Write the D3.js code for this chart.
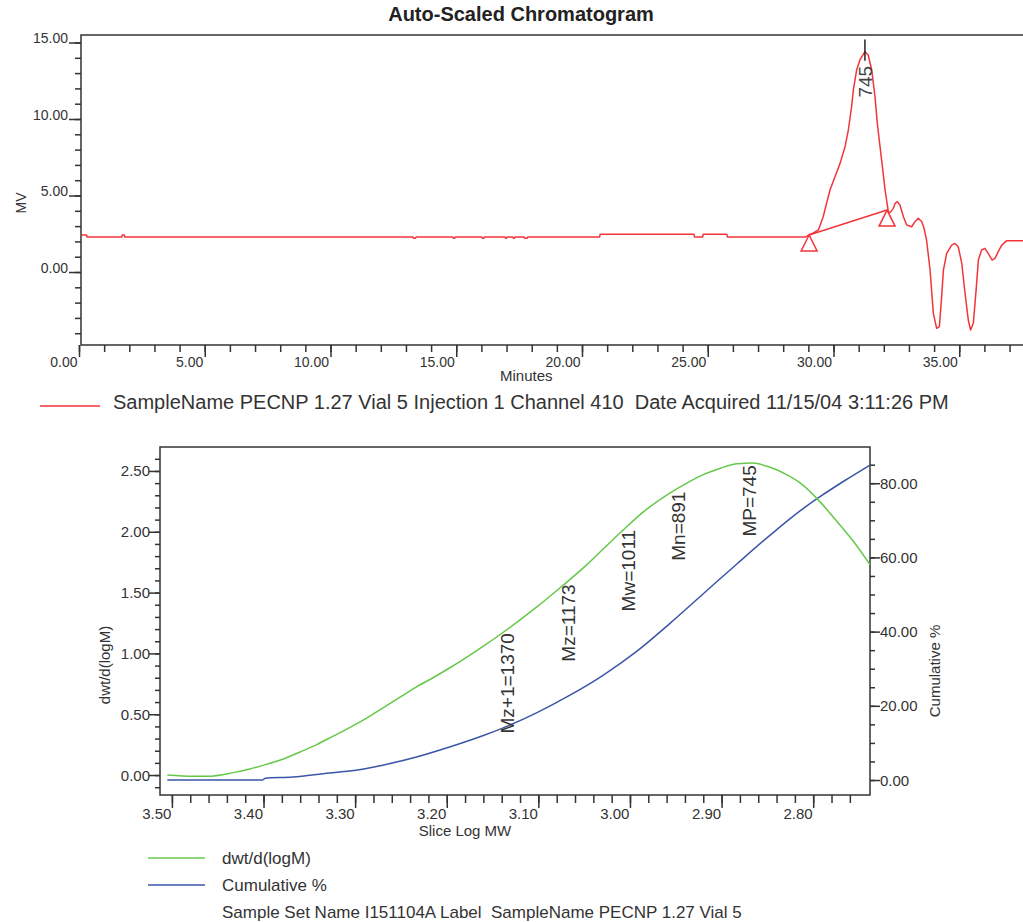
<!DOCTYPE html>
<html><head><meta charset="utf-8">
<script src="https://cdn.jsdelivr.net/npm/d3@7"></script>
<style>
body{margin:0;background:#fff;}
svg{display:block;font-family:"Liberation Sans",Arial,Helvetica,sans-serif;}
text{white-space:pre;}
</style></head><body>
<svg id="c" width="1023" height="922"></svg>
<script>
// ---------- Top chart data (Minutes vs MV) ----------
const chromTime = [0.10,0.30,0.32,1.70,1.72,1.80,1.82,13.28,13.30,13.38,13.40,14.86,14.88,14.94,14.96,16.02,16.04,16.10,16.12,16.94,16.96,17.00,17.02,17.25,17.27,17.31,17.33,17.70,17.72,17.82,17.84,20.70,20.72,24.45,24.47,24.80,24.82,25.76,25.78,28.90,
  29.03,29.20,29.40,29.59,29.86,30.06,30.26,30.46,30.59,30.72,30.79,30.92,31.05,31.25,31.38,31.52,31.65,31.74,31.85,31.96,32.05,32.18,32.25,32.38,32.45,32.54,32.64,32.78,32.91,33.11,33.24,33.37,33.51,33.60,33.70,33.84,33.97,34.10,34.21,34.30,34.37,34.50,34.70,34.83,34.96,35.10,35.23,35.36,35.45,35.56,35.67,35.76,35.89,36.02,36.15,36.31,36.42,36.55,36.69,36.89,37.60];
const chromMV = [2.42,2.42,2.29,2.29,2.42,2.42,2.29,2.29,2.20,2.20,2.29,2.29,2.20,2.20,2.29,2.29,2.20,2.20,2.29,2.29,2.20,2.20,2.29,2.29,2.20,2.20,2.29,2.29,2.20,2.20,2.29,2.29,2.46,2.46,2.29,2.29,2.46,2.46,2.29,2.29,
  2.42,2.55,2.75,3.61,5.36,6.23,7.10,8.19,9.28,10.80,11.90,13.20,13.86,14.40,14.18,13.20,11.46,9.74,8.19,6.67,5.36,3.94,3.88,4.16,4.49,4.60,4.38,3.61,3.07,2.96,3.29,3.51,3.29,2.86,2.09,0.13,-2.70,-3.68,-3.57,-1.61,0.13,1.22,1.76,1.87,1.65,0.57,-1.39,-3.14,-3.79,-3.35,-1.18,0.78,1.44,1.55,1.22,0.78,0.89,1.33,1.76,2.05,2.05];
const peakStart = [29.03, 2.42];
const peakEnd = [32.13, 4.05];
const peakApex = 31.25;
const peakLabel = "745";
const chromXMajor = [0,5,10,15,20,25,30,35];
const chromXMinor = d3.range(0,38,1);
const chromYMajor = [0,5,10,15];
const chromYMinor = d3.range(-4,16,1);
const chromTitle = "Auto-Scaled Chromatogram";
const chromLegend = "SampleName PECNP 1.27 Vial 5 Injection 1 Channel 410  Date Acquired 11/15/04 3:11:26 PM";

// ---------- Bottom chart data (Slice Log MW) ----------
const dwtLogM = [3.505,3.477,3.461,3.433,3.415,3.396,3.379,3.360,3.342,3.324,3.306,3.287,3.270,3.251,3.233,3.215,3.197,3.178,3.160,3.139,3.102,3.073,3.047,3.029,3.008,2.986,2.956,2.938,2.920,2.902,2.883,2.866,2.847,2.829,2.814,2.793,2.778,2.757,2.738];
const dwtValues = [0.00,-0.01,-0.01,0.02,0.05,0.09,0.13,0.19,0.25,0.32,0.39,0.47,0.55,0.64,0.725,0.80,0.88,0.97,1.06,1.17,1.38,1.56,1.73,1.86,2.01,2.16,2.32,2.40,2.47,2.52,2.56,2.565,2.53,2.47,2.40,2.25,2.12,1.93,1.73];
const cumLogM = [3.505,3.401,3.398,3.368,3.328,3.306,3.270,3.233,3.197,3.160,3.139,3.102,3.066,3.029,2.992,2.956,2.920,2.883,2.847,2.814,2.793,2.765,2.738];
const cumValues = [0.0,0.0,0.5,0.8,1.9,2.4,4.0,6.2,8.9,12.0,14.0,18.1,22.8,28.3,34.8,42.3,50.2,58.3,66.0,72.6,76.3,80.8,84.9];
const annNames = ["Mz+1","Mz","Mw","Mn","MP"];
const annValues = [1370,1173,1011,891,745];
const mwXMajor = [3.5,3.4,3.3,3.2,3.1,3.0,2.9,2.8];
const mwXMinor = d3.range(0,38).map(i => +(3.5 - i*0.02).toFixed(2)).filter(v => v >= 2.74);
const dwtYMajor = [0,0.5,1,1.5,2,2.5];
const dwtYMinor = d3.range(-1,27).map(i => +(i*0.1).toFixed(1));
const cumYMajor = [0,20,40,60,80];
const cumYMinor = d3.range(0,90,5);
const seriesNames = ["dwt/d(logM)","Cumulative %"];
const mwLegendNote = "Sample Set Name I151104A Label  SampleName PECNP 1.27 Vial 5";

// ---------- Drawing ----------
const svg = d3.select("#c");
const axisCol = "#333", textCol = "#333";
const red = "#f2353a", green = "#66c84a", blue = "#3a56a8";
const fmt2 = d3.format(".2f");

svg.append("rect").attr("width",1023).attr("height",922).attr("fill","#fff");

// === TOP CHART ===
const tx = d3.scaleLinear().domain([0,37.6]).range([79, 79+37.6*25.15]);
const ty = d3.scaleLinear().domain([-4.77,15.49]).range([345,35]);
const axL = 81;
const T = svg.append("g");

T.append("text").attr("x",521).attr("y",21).attr("text-anchor","middle")
  .attr("font-size",20).attr("font-weight","bold").attr("fill","#222").text(chromTitle);

function styleAxis(g, fs){
  g.select(".domain").remove();
  g.selectAll(".tick line").attr("stroke",axisCol).attr("stroke-width",1.5);
  g.selectAll(".tick text").attr("fill",textCol).attr("font-size",fs)
   .attr("font-family","Liberation Sans, Arial, sans-serif");
}

// x minor / major
let g = T.append("g").attr("transform",`translate(0,${ty.range()[0]})`)
  .call(d3.axisBottom(tx).tickValues(chromXMinor).tickSize(7).tickFormat(""));
styleAxis(g,14);
g = T.append("g").attr("transform",`translate(0,${ty.range()[0]})`)
  .call(d3.axisBottom(tx).tickValues(chromXMajor).tickSize(12).tickFormat(fmt2));
styleAxis(g,14);
g.selectAll(".tick text").attr("text-anchor","end").attr("x",-2).attr("y",22).attr("dy",0);

// y minor / major
g = T.append("g").attr("transform",`translate(${axL},0)`)
  .call(d3.axisLeft(ty).tickValues(chromYMinor).tickSize(6).tickFormat(""));
styleAxis(g,14);
g = T.append("g").attr("transform",`translate(${axL},0)`)
  .call(d3.axisLeft(ty).tickValues(chromYMajor).tickSize(12).tickFormat(fmt2));
styleAxis(g,14);
g.selectAll(".tick text").attr("x",-13).attr("dy",0);

// frame
T.append("path").attr("fill","none").attr("stroke",axisCol).attr("stroke-width",1.5)
  .attr("d",`M1030,${ty.range()[1]}H${axL}V${ty.range()[0]}H1030`);

// labels
T.append("text").attr("x",500).attr("y",381).attr("font-size",15).attr("fill",textCol).text("Minutes");
T.append("text").attr("transform","translate(26,203) rotate(-90)").attr("text-anchor","middle")
  .attr("font-size",14).attr("fill",textCol).text("MV");

// data line
const chromData = chromTime.map((t,i)=>[t,chromMV[i]]);
T.append("path").datum(chromData).attr("fill","none").attr("stroke",red).attr("stroke-width",1.5)
  .attr("stroke-linejoin","round")
  .attr("d", d3.line().x(d=>tx(d[0])).y(d=>ty(d[1])));

// baseline between peak markers
T.append("line").attr("x1",tx(peakStart[0])).attr("y1",ty(peakStart[1]))
  .attr("x2",tx(peakEnd[0])).attr("y2",ty(peakEnd[1])).attr("stroke",red).attr("stroke-width",1.5);
// triangles
[peakStart,peakEnd].forEach(p=>{
  const cx = tx(p[0]), cy = ty(p[1]);
  T.append("path").attr("fill","none").attr("stroke",red).attr("stroke-width",1.5)
    .attr("d",`M${cx},${cy}L${cx-8},${cy+16}L${cx+8},${cy+16}Z`);
});
// apex marker
T.append("line").attr("x1",tx(peakApex)).attr("x2",tx(peakApex)).attr("y1",ty(15.2)).attr("y2",ty(13.8))
  .attr("stroke","#222").attr("stroke-width",1.5);
T.append("text").attr("transform",`translate(${tx(peakApex)+7},${ty(11.4)}) rotate(-90)`)
  .attr("font-size",19).attr("fill","#444").text(peakLabel);

// legend
T.append("line").attr("x1",40).attr("x2",100).attr("y1",406).attr("y2",406).attr("stroke",red).attr("stroke-width",1.5);
T.append("text").attr("x",113).attr("y",409).attr("font-size",20).attr("fill",textCol).text(chromLegend);

// === BOTTOM CHART ===
const bx = d3.scaleLinear().domain([3.513,2.738]).range([160,870]);
const byL = d3.scaleLinear().domain([-0.164,2.697]).range([795,447]);
const byR = d3.scaleLinear().domain([-4.04,89.76]).range([795,447]);
const B = svg.append("g");

g = B.append("g").attr("transform",`translate(0,795)`)
  .call(d3.axisBottom(bx).tickValues(mwXMinor).tickSize(8).tickFormat(""));
styleAxis(g,15);
g = B.append("g").attr("transform",`translate(0,795)`)
  .call(d3.axisBottom(bx).tickValues(mwXMajor).tickSize(13).tickFormat(fmt2));
styleAxis(g,15);
g.selectAll(".tick text").attr("text-anchor","end").attr("x",-1).attr("y",24).attr("dy",0);

g = B.append("g").attr("transform",`translate(160,0)`)
  .call(d3.axisLeft(byL).tickValues(dwtYMinor).tickSize(5).tickFormat(""));
styleAxis(g,15);
g = B.append("g").attr("transform",`translate(160,0)`)
  .call(d3.axisLeft(byL).tickValues(dwtYMajor).tickSize(11).tickFormat(fmt2));
styleAxis(g,15);
g.selectAll(".tick text").attr("x",-10).attr("dy",5);

g = B.append("g").attr("transform",`translate(870,0)`)
  .call(d3.axisRight(byR).tickValues(cumYMinor).tickSize(5).tickFormat(""));
styleAxis(g,15);
g = B.append("g").attr("transform",`translate(870,0)`)
  .call(d3.axisRight(byR).tickValues(cumYMajor).tickSize(10).tickFormat(fmt2));
styleAxis(g,15);
g.selectAll(".tick text").attr("x",10).attr("dy",5);

// frame
B.append("rect").attr("x",160).attr("y",447).attr("width",710).attr("height",348)
  .attr("fill","none").attr("stroke",axisCol).attr("stroke-width",1.5);

// labels
B.append("text").attr("x",465).attr("y",836).attr("text-anchor","middle").attr("font-size",15).attr("fill",textCol).text("Slice Log MW");
B.append("text").attr("transform","translate(110,665) rotate(-90)").attr("text-anchor","middle")
  .attr("font-size",15).attr("fill",textCol).text("dwt/d(logM)");
B.append("text").attr("transform","translate(940,671) rotate(-90)").attr("text-anchor","middle")
  .attr("font-size",15).attr("fill",textCol).text("Cumulative %");

// lines
const dwtData = dwtLogM.map((m,i)=>[m,dwtValues[i]]);
const cumData = cumLogM.map((m,i)=>[m,cumValues[i]]);
B.append("path").datum(cumData).attr("fill","none").attr("stroke",blue).attr("stroke-width",1.5)
  .attr("d", d3.line().x(d=>bx(d[0])).y(d=>byR(d[1])).curve(d3.curveMonotoneX));
B.append("path").datum(dwtData).attr("fill","none").attr("stroke",green).attr("stroke-width",1.5)
  .attr("d", d3.line().x(d=>bx(d[0])).y(d=>byL(d[1])).curve(d3.curveMonotoneX));

// annotations
const dwtAsc = dwtData.slice().sort((a,b)=>a[0]-b[0]);
const interp = m => {
  const i = d3.bisector(d=>d[0]).left(dwtAsc, m);
  const a = dwtAsc[Math.max(0,i-1)], b = dwtAsc[Math.min(dwtAsc.length-1,i)];
  if (a[0]===b[0]) return a[1];
  return a[1] + (b[1]-a[1])*(m-a[0])/(b[0]-a[0]);
};
annNames.forEach((n,i)=>{
  const m = Math.log10(annValues[i]);
  B.append("text").attr("transform",`translate(${bx(m)+9},${byL(interp(m))+2}) rotate(-90)`)
    .attr("text-anchor","end").attr("font-size",19).attr("fill","#333").text(`${n}=${annValues[i]}`);
});

// legend
[green,blue].forEach((c,i)=>{
  B.append("line").attr("x1",148).attr("x2",205).attr("y1",858+i*27).attr("y2",858+i*27).attr("stroke",c).attr("stroke-width",1.5);
  B.append("text").attr("x",222).attr("y",864+i*27).attr("font-size",17).attr("fill",textCol).text(seriesNames[i]);
});
B.append("text").attr("x",222).attr("y",918).attr("font-size",17).attr("fill",textCol).text(mwLegendNote);
</script>
</body></html>
